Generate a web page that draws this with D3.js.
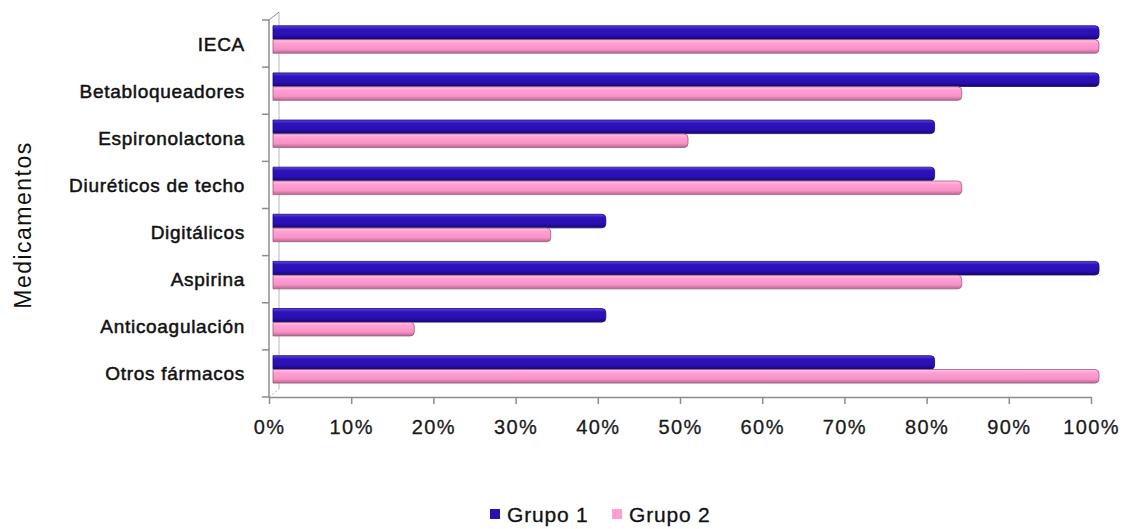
<!DOCTYPE html>
<html>
<head>
<meta charset="utf-8">
<script src="https://cdn.jsdelivr.net/npm/d3@7"></script>
<style>
  html, body { margin: 0; padding: 0; background: #fff; }
  svg { display: block; }
</style>
</head>
<body>
<svg id="chart" width="1127" height="529"></svg>
<script>
// Drug categories, top to bottom
const categories = ["IECA", "Betabloqueadores", "Espironolactona", "Diuréticos de techo",
                    "Digitálicos", "Aspirina", "Anticoagulación", "Otros fármacos"];
// Share of patients per group (fraction)
const grupo1 = [1.00, 1.00, 0.80, 0.80, 0.40, 1.00, 0.40, 0.80];
const grupo2 = [1.00, 0.833, 0.50, 0.833, 0.333, 0.833, 0.167, 1.00];
const seriesNames = ["Grupo 1", "Grupo 2"];
const xTicks = [0, 0.1, 0.2, 0.3, 0.4, 0.5, 0.6, 0.7, 0.8, 0.9, 1.0];

const svg = d3.select("#chart");
const plotLeft = 269, plotRight = 1091, plotTop = 20, plotBottom = 397;
const depth = { dx: 10, dy: -8 };
const font = "'Liberation Sans', Arial, sans-serif";

const x = d3.scaleLinear().domain([0, 1]).range([plotLeft, plotRight]);
const y = d3.scaleBand().domain(categories).range([plotTop, plotBottom]).padding(0);
const inner = d3.scaleBand().domain(seriesNames).range([5.5, 33.5]).padding(0.02);

const colors = {
  "Grupo 1": { stops: ["#5a45dc", "#2e12bc", "#2a0fb2", "#160770"], stroke: "#1a0a6e", legend: "#2a0fb2" },
  "Grupo 2": { stops: ["#ffc6e6", "#ff9fd2", "#f892c8", "#b46890"], stroke: "#9c5a7c", legend: "#ff9fd2" }
};

// vertical gradients give the bars a rounded, tube-like look
const defs = svg.append("defs");
seriesNames.forEach((s, i) => {
  const g = defs.append("linearGradient").attr("id", "grad" + i)
    .attr("x1", 0).attr("y1", 0).attr("x2", 0).attr("y2", 1);
  const st = colors[s].stops;
  g.append("stop").attr("offset", "0%").attr("stop-color", st[0]);
  g.append("stop").attr("offset", "25%").attr("stop-color", st[1]);
  g.append("stop").attr("offset", "70%").attr("stop-color", st[2]);
  g.append("stop").attr("offset", "100%").attr("stop-color", st[3]);
});

// back wall edge of the 3D frame
const wall = svg.append("g").attr("stroke", "#b8b8b8").attr("fill", "none").attr("stroke-width", 1);
wall.append("line").attr("x1", plotLeft + depth.dx).attr("x2", plotLeft + depth.dx)
  .attr("y1", plotTop + depth.dy).attr("y2", plotBottom + depth.dy);
wall.append("line").attr("x1", plotLeft).attr("y1", plotTop)
  .attr("x2", plotLeft + depth.dx).attr("y2", plotTop + depth.dy).attr("stroke", "#8a8a8a");
wall.append("line").attr("x1", plotLeft).attr("y1", plotBottom)
  .attr("x2", plotLeft + depth.dx).attr("y2", plotBottom + depth.dy).attr("stroke-dasharray", "2,2");

// bars
const data = [];
categories.forEach((c, i) => {
  data.push({ cat: c, s: "Grupo 1", v: grupo1[i], idx: 0 });
  data.push({ cat: c, s: "Grupo 2", v: grupo2[i], idx: 1 });
});

const barStart = x(0) + 4;
svg.append("g").selectAll("path").data(data).join("path")
  .attr("d", d => {
    const y0 = y(d.cat) + inner(d.s), h = inner.bandwidth();
    const x0 = barStart, x1 = x(d.v) + 8, r = Math.min(4, h / 2);
    return `M${x0},${y0} H${x1 - r} Q${x1},${y0} ${x1},${y0 + r} V${y0 + h - r} Q${x1},${y0 + h} ${x1 - r},${y0 + h} H${x0} Z`;
  })
  .attr("fill", d => `url(#grad${d.idx})`)
  .attr("stroke", d => colors[d.s].stroke)
  .attr("stroke-width", 0.8);

// axes
const axisColor = "#8c8c8c";
const xAxis = svg.append("g").attr("transform", `translate(0,${plotBottom})`)
  .call(d3.axisBottom(x).tickValues(xTicks).tickFormat(d3.format(".0%")).tickSizeInner(7).tickSizeOuter(0).tickPadding(16));
xAxis.select(".domain").attr("stroke", axisColor).attr("stroke-width", 1.5);
xAxis.selectAll(".tick line").attr("stroke", axisColor).attr("stroke-width", 1.5);
xAxis.selectAll(".tick text")
  .attr("fill", "#1a1a1a")
  .attr("stroke", "#1a1a1a").attr("stroke-width", 0.3)
  .style("font-family", font)
  .style("font-size", "20px")
  .style("letter-spacing", "1.4px");

const yTickPos = d3.range(categories.length + 1).map(i => plotTop + i * y.step());
const yAxisG = svg.append("g").attr("stroke", axisColor).attr("stroke-width", 1.5);
yAxisG.append("line").attr("x1", plotLeft).attr("x2", plotLeft).attr("y1", plotTop).attr("y2", plotBottom);
yAxisG.selectAll("line.tk").data(yTickPos).join("line").attr("class", "tk")
  .attr("x1", plotLeft - 7).attr("x2", plotLeft).attr("y1", d => d).attr("y2", d => d);

// category labels
svg.append("g").selectAll("text").data(categories).join("text")
  .attr("x", 245)
  .attr("y", d => y(d) + y.bandwidth() / 2 + 7)
  .attr("text-anchor", "end")
  .attr("fill", "#111")
  .attr("stroke", "#111").attr("stroke-width", 0.5)
  .style("font-family", font)
  .style("font-size", "19px")
  .style("letter-spacing", "0.7px")
  .text(d => d);

// axis title
svg.append("text")
  .attr("transform", `translate(31,225) rotate(-90)`)
  .attr("text-anchor", "middle")
  .attr("fill", "#111")
  .style("font-family", font)
  .style("font-size", "23px")
  .style("letter-spacing", "1.5px")
  .text("Medicamentos");

// legend
const legendItems = [{ s: "Grupo 1", x: 490 }, { s: "Grupo 2", x: 612 }];
const lg = svg.append("g").selectAll("g").data(legendItems).join("g")
  .attr("transform", d => `translate(${d.x},509)`);
lg.append("rect").attr("width", 10).attr("height", 10).attr("fill", d => colors[d.s].legend);
lg.append("text").attr("x", 17).attr("y", 13)
  .attr("fill", "#111")
  .attr("stroke", "#111").attr("stroke-width", 0.3)
  .style("font-family", font)
  .style("font-size", "21px")
  .style("letter-spacing", "0.8px")
  .text(d => d.s);
</script>
</body>
</html>
